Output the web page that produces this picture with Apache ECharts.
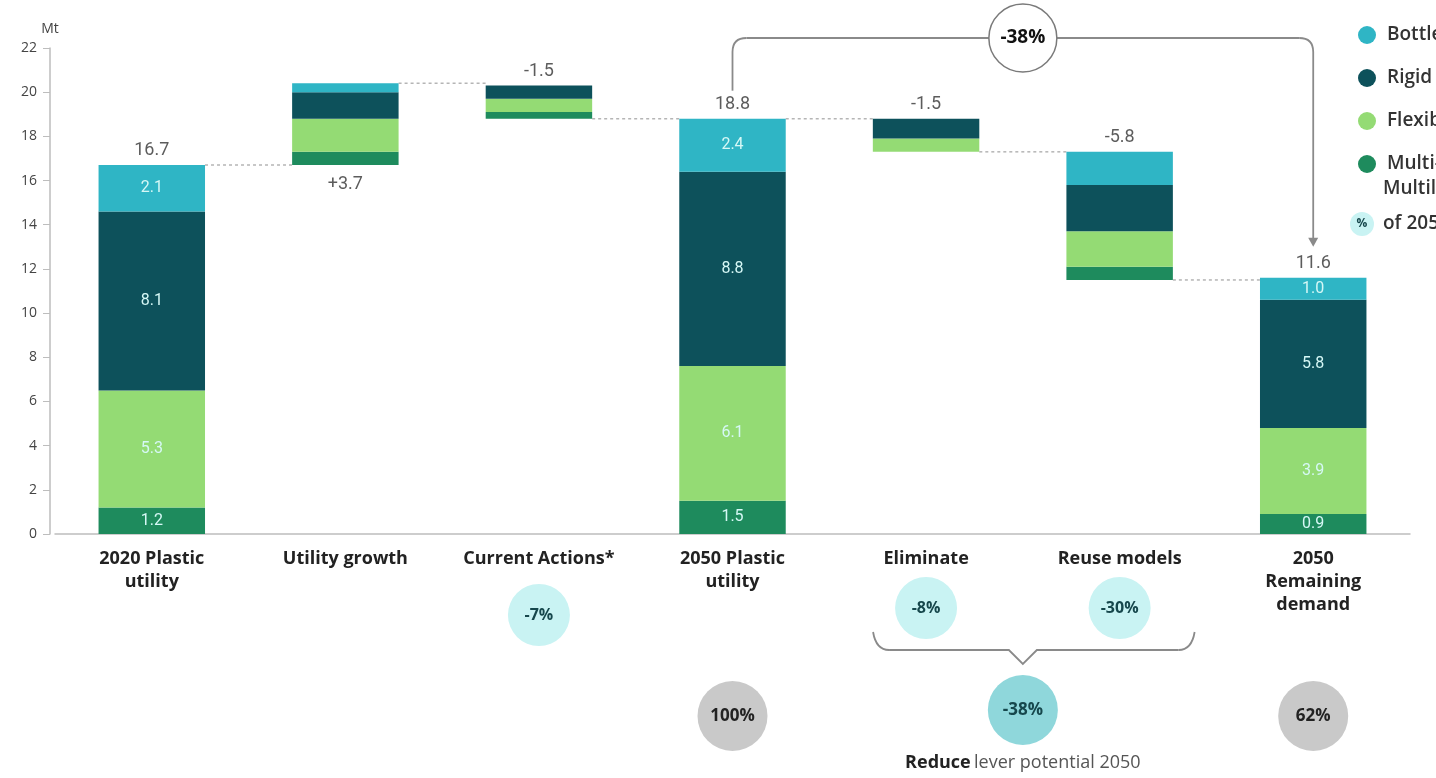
<!DOCTYPE html>
<html><head><meta charset="utf-8">
<script src="https://cdn.jsdelivr.net/npm/echarts@6/dist/echarts.min.js"></script>
<style>html,body{margin:0;padding:0;background:#fff}#c{width:1436px;height:778px}</style>
</head><body><div id="c"></div>
<script>
// ---- data ----
const categories = ['2020 Plastic\nutility', 'Utility growth', 'Current Actions*', '2050 Plastic\nutility', 'Eliminate', 'Reuse models', '2050\nRemaining\ndemand'];
const baseValues   = [0, 16.7, 18.8, 0, 17.3, 11.5, 0];
const multiValues  = [1.2, 0.6, 0.3, 1.5, 0, 0.6, 0.9];
const flexValues   = [5.3, 1.5, 0.6, 6.1, 0.6, 1.6, 3.9];
const rigidValues  = [8.1, 1.2, 0.6, 8.8, 0.9, 2.1, 5.8];
const bottleValues = [2.1, 0.4, 0, 2.4, 0, 1.5, 1.0];
const totalLabels  = ['16.7', '+3.7', '-1.5', '18.8', '-1.5', '-5.8', '11.6'];
const totalLabelY  = [16.7, 16.7, 20.3, 18.8, 18.8, 17.3, 11.6];
const totalLabelPos = ['top', 'bottom', 'top', 'top', 'top', 'top', 'top'];
const connectorLevels = [16.7, 20.4, 18.8, 18.8, 17.3, 11.5];
const labelledBars = [0, 3, 6];
const seriesNames = ['Bottles', 'Rigid packaging', 'Flexibles', 'Multi-material'];
const leverShares = ['-7%', '-8%', '-30%'];
const leverCats = [2, 4, 5];
const totalShares = ['100%', '-38%', '62%'];

const colors = { bottles: '#2fb5c5', rigid: '#0d515b', flex: '#94db74', multi: '#1e8b5d' };
const barRatio = 0.55;
const FONT = 'Open Sans';

const chart = echarts.init(document.getElementById('c'));

function segData(vals) {
  return vals.map((v, i) => ({ value: v, label: { show: labelledBars.includes(i) } }));
}
function barSeries(name, vals, color) {
  return {
    name, type: 'bar', stack: 'w', barWidth: (barRatio * 100) + '%', data: segData(vals),
    itemStyle: { color },
    label: { show: false, position: 'inside', color: '#d6f8f6', fontSize: 16, fontFamily: 'Roboto',
      formatter: p => p.value.toFixed(1) },
    emphasis: { disabled: true }
  };
}

chart.setOption({
  animation: false,
  textStyle: { fontFamily: FONT },
  grid: { left: 55, right: 26, top: 48, bottom: 244 },
  legend: {
    orient: 'vertical', left: 1353, top: 20, itemWidth: 18, itemHeight: 18, itemGap: 23,
    icon: 'circle', data: seriesNames,
    textStyle: { fontSize: 19, fontWeight: 600, color: '#333', lineHeight: 20, fontFamily: FONT, padding: [0, 0, 0, 6] }
  },
  xAxis: {
    type: 'category', data: categories,
    axisLine: { lineStyle: { color: '#bdbdbd', width: 1.5 } },
    axisTick: { show: false },
    axisLabel: { interval: 0, fontSize: 18, fontWeight: 'bold', color: '#222', lineHeight: 23, margin: 13, fontFamily: FONT }
  },
  yAxis: {
    type: 'value', min: 0, max: 22, interval: 2, offset: 5,
    name: 'Mt', nameGap: 12, nameTextStyle: { color: '#444', fontSize: 14, fontFamily: FONT },
    axisLine: { show: true, lineStyle: { color: '#bdbdbd', width: 1.5 } },
    axisTick: { show: true, length: 7, lineStyle: { color: '#bdbdbd' } },
    axisLabel: { color: '#444', fontSize: 14, margin: 13 },
    splitLine: { show: false }
  },
  series: [
    { name: 'base', type: 'bar', stack: 'w', barWidth: (barRatio * 100) + '%', data: baseValues,
      itemStyle: { color: 'transparent' }, silent: true },
    barSeries(seriesNames[3], multiValues, colors.multi),
    barSeries(seriesNames[2], flexValues, colors.flex),
    barSeries(seriesNames[1], rigidValues, colors.rigid),
    barSeries(seriesNames[0], bottleValues, colors.bottles),
    {
      name: 'connectors', type: 'custom', silent: true, z: 1,
      data: connectorLevels.map((y, i) => [i, y]),
      renderItem: (params, api) => {
        const i = api.value(0), y = api.value(1);
        const p = api.coord([i, y]);
        const bw = api.size([1, 0])[0];
        const half = bw * barRatio / 2;
        return { type: 'line', shape: { x1: p[0] + half, y1: p[1], x2: p[0] + bw - half, y2: p[1] },
          style: { stroke: '#b5b5b5', lineWidth: 1.5, lineDash: [3, 3] } };
      }
    },
    {
      name: 'totals', type: 'scatter', symbolSize: 1, itemStyle: { color: 'transparent' }, silent: true,
      data: totalLabelY.map((y, i) => ({ value: [i, y],
        label: { position: totalLabelPos[i], distance: totalLabelPos[i] === 'bottom' ? 10 : 5 } })),
      label: { show: true, fontSize: 18, color: '#333', fontFamily: 'Roboto',
        formatter: p => totalLabels[p.dataIndex] }
    }
  ]
});

// ---- annotations placed from the chart's own scale ----
const cx = i => chart.convertToPixel({ gridIndex: 0 }, [i, 0])[0];
const cy = v => chart.convertToPixel({ gridIndex: 0 }, [0, v])[1];
const x3 = cx(3), x4 = cx(4), x5 = cx(5), x6 = cx(6);
const xm = (x4 + x5) / 2;
const topY = 38;
const startY = cy(18.8) - 28;
const endY = cy(11.6) - 32;
const g = [];
const grey = '#8a8a8a';
const ls = { stroke: grey, lineWidth: 1.8 };
g.push({ type: 'line', shape: { x1: x3, y1: startY, x2: x3, y2: topY + 14 }, style: ls });
g.push({ type: 'bezierCurve', shape: { x1: x3, y1: topY + 14, cpx1: x3, cpy1: topY, x2: x3 + 14, y2: topY }, style: Object.assign({ fill: null }, ls) });
g.push({ type: 'line', shape: { x1: x3 + 14, y1: topY, x2: x6 - 14, y2: topY }, style: ls });
g.push({ type: 'bezierCurve', shape: { x1: x6 - 14, y1: topY, cpx1: x6, cpy1: topY, x2: x6, y2: topY + 14 }, style: Object.assign({ fill: null }, ls) });
g.push({ type: 'line', shape: { x1: x6, y1: topY + 14, x2: x6, y2: endY - 4 }, style: ls });
g.push({ type: 'polygon', shape: { points: [[x6 - 5, endY - 8], [x6 + 5, endY - 8], [x6, endY + 1]] }, style: { fill: grey } });
g.push({ type: 'circle', shape: { cx: xm, cy: topY, r: 34 }, style: { fill: '#fff', stroke: '#7a7a7a', lineWidth: 1.5 } });
g.push({ type: 'text', x: xm, y: topY, style: { text: '-38%', fontSize: 19, fontWeight: 'bold', fill: '#111', align: 'center', verticalAlign: 'middle', fontFamily: FONT } });

// lever circles
leverCats.forEach((c, k) => {
  const yC = c === 2 ? 615 : 608;
  g.push({ type: 'circle', shape: { cx: cx(c), cy: yC, r: 31 }, style: { fill: '#c9f3f3' } });
  g.push({ type: 'text', x: cx(c), y: yC, style: { text: leverShares[k], fontSize: 16, fontWeight: 'bold', fill: '#16474c', align: 'center', verticalAlign: 'middle', fontFamily: FONT } });
});

// bottom bracket
const bl = x4 - 53, br = x5 + 75;
const bs = Object.assign({ fill: null }, ls);
g.push({ type: 'bezierCurve', shape: { x1: bl, y1: 632, cpx1: bl + 3, cpy1: 650, x2: bl + 16, y2: 650 }, style: bs });
g.push({ type: 'polyline', shape: { points: [[bl + 16, 650], [xm - 14, 650], [xm, 664], [xm + 14, 650], [br - 16, 650]] }, style: bs });
g.push({ type: 'bezierCurve', shape: { x1: br - 16, y1: 650, cpx1: br - 3, cpy1: 650, x2: br, y2: 632 }, style: bs });

// totals circles
[[x3, '#c9c9c9', totalShares[0], 716], [xm, '#8fd7db', totalShares[1], 710], [x6, '#c9c9c9', totalShares[2], 716]].forEach(([x, col, t, yC]) => {
  g.push({ type: 'circle', shape: { cx: x, cy: yC, r: 35 }, style: { fill: col } });
  g.push({ type: 'text', x: x, y: yC, style: { text: t, fontSize: 17, fontWeight: 'bold', fill: x === xm ? '#16474c' : '#222', align: 'center', verticalAlign: 'middle', fontFamily: FONT } });
});
g.push({ type: 'text', x: xm, y: 763, style: {
  text: '{b|Reduce} {n|lever potential 2050}', align: 'center', verticalAlign: 'middle',
  rich: { b: { fontSize: 18, fontWeight: 'bold', fill: '#222', fontFamily: FONT }, n: { fontSize: 18, fill: '#555', fontFamily: FONT } } } });

// legend extras
g.push({ type: 'text', x: 1383, y: 189, style: { text: 'Multilayer', fontSize: 19, fontWeight: 600, fill: '#333', verticalAlign: 'middle', fontFamily: FONT } });
g.push({ type: 'circle', shape: { cx: 1362, cy: 224, r: 12 }, style: { fill: '#c9f3f3' } });
g.push({ type: 'text', x: 1362, y: 224, style: { text: '%', fontSize: 12, fontWeight: 'bold', fill: '#16474c', align: 'center', verticalAlign: 'middle', fontFamily: FONT } });
g.push({ type: 'text', x: 1383, y: 224, style: { text: 'of 2050 plastic utility', fontSize: 19, fontWeight: 600, fill: '#333', verticalAlign: 'middle', fontFamily: FONT } });

chart.setOption({ graphic: g });
</script>
</body></html>
